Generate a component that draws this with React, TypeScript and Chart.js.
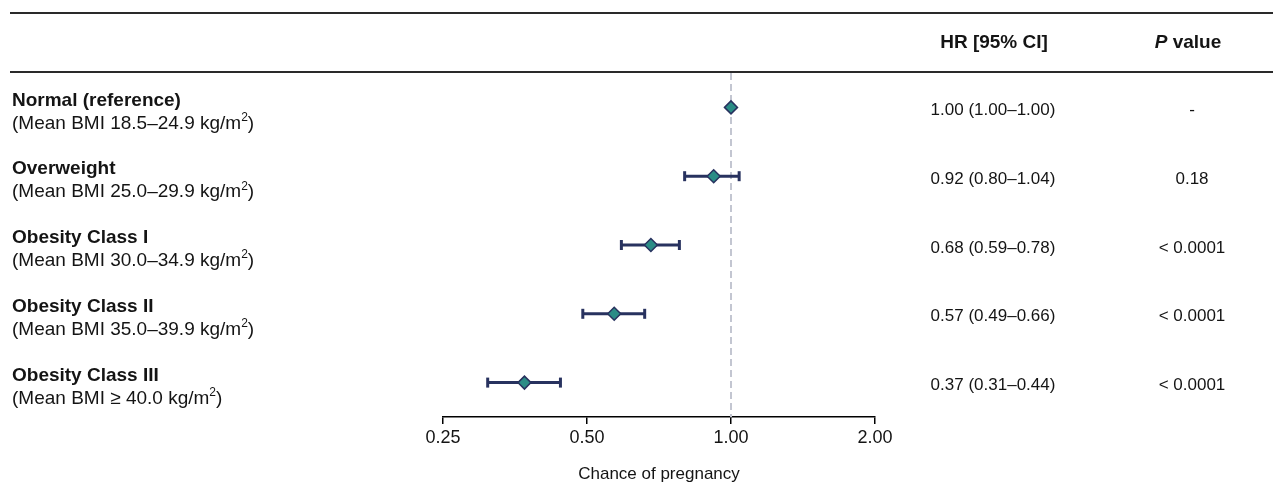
import React, { useEffect, useRef } from "react";
import { Chart, registerables } from "chart.js";

Chart.register(...registerables);

const groupNames = ["Normal (reference)", "Overweight", "Obesity Class I", "Obesity Class II", "Obesity Class III"];
const bmiRanges = [
  "(Mean BMI 18.5–24.9 kg/m²)",
  "(Mean BMI 25.0–29.9 kg/m²)",
  "(Mean BMI 30.0–34.9 kg/m²)",
  "(Mean BMI 35.0–39.9 kg/m²)",
  "(Mean BMI ≥ 40.0 kg/m²)",
];
const hr = [1.0, 0.92, 0.68, 0.57, 0.37];
const ciLow = [1.0, 0.8, 0.59, 0.49, 0.31];
const ciHigh = [1.0, 1.04, 0.78, 0.66, 0.44];
const pValues = ["-", "0.18", "< 0.0001", "< 0.0001", "< 0.0001"];
const xTicks = [0.25, 0.5, 1.0, 2.0];
const referenceValue = 1.0;
const axisTitle = "Chance of pregnancy";
const hrHeader = "HR [95% CI]";

const FONT = '"Liberation Sans", Arial, Helvetica, sans-serif';
const NAVY = "#28325f";
const TEAL = "#2b8c86";
const TEXT = "#141414";

const fmt = (v: number) => v.toFixed(2);

const tablePlugin = {
  id: "forestTable",
  afterDraw(chart: any) {
    const ctx = chart.ctx as CanvasRenderingContext2D;
    const yScale = chart.scales.y;
    const W = chart.width;
    ctx.save();
    // rules
    ctx.strokeStyle = "#2a2a2a";
    ctx.lineWidth = 2;
    ctx.beginPath();
    ctx.moveTo(10, 13);
    ctx.lineTo(W, 13);
    ctx.moveTo(10, 72);
    ctx.lineTo(W, 72);
    ctx.stroke();

    ctx.fillStyle = TEXT;
    ctx.textBaseline = "middle";

    // headers
    ctx.font = `bold 19px ${FONT}`;
    ctx.textAlign = "center";
    ctx.fillText(hrHeader, 994, 43);
    const pw = (() => {
      ctx.font = `italic bold 19px ${FONT}`;
      const a = ctx.measureText("P").width;
      ctx.font = `bold 19px ${FONT}`;
      const b = ctx.measureText(" value").width;
      return [a, b];
    })();
    const pStart = 1188 - (pw[0] + pw[1]) / 2;
    ctx.textAlign = "left";
    ctx.font = `italic bold 19px ${FONT}`;
    ctx.fillText("P", pStart, 43);
    ctx.font = `bold 19px ${FONT}`;
    ctx.fillText(" value", pStart + pw[0], 43);

    groupNames.forEach((name, i) => {
      const yc = yScale.getPixelForValue(i);
      // left labels
      ctx.textAlign = "left";
      ctx.font = `bold 19px ${FONT}`;
      ctx.fillText(name, 12, yc - 7);
      ctx.font = `19px ${FONT}`;
      const parts = bmiRanges[i].split("²");
      let x = 12;
      ctx.fillText(parts[0], x, yc + 16);
      x += ctx.measureText(parts[0]).width;
      if (parts.length > 1) {
        ctx.font = `12px ${FONT}`;
        ctx.fillText("2", x, yc + 10);
        x += ctx.measureText("2").width;
        ctx.font = `19px ${FONT}`;
        ctx.fillText(parts[1], x, yc + 16);
      }
      // right columns
      ctx.textAlign = "center";
      ctx.font = `17px ${FONT}`;
      ctx.fillText(`${fmt(hr[i])} (${fmt(ciLow[i])}–${fmt(ciHigh[i])})`, 993, yc + 3);
      ctx.fillText(pValues[i], 1192, yc + 3);
    });
    ctx.restore();
  },
};

export default function App() {
  const ref = useRef<HTMLCanvasElement | null>(null);
  useEffect(() => {
    document.body.style.margin = "0";
    const canvas = ref.current;
    if (!canvas) return;
    const rows = groupNames.map((_, i) => i);
    const barSets = rows.map((i) => ({
      type: "line" as const,
      data: [
        { x: ciLow[i], y: i },
        { x: ciHigh[i], y: i },
      ],
      borderColor: NAVY,
      borderWidth: 3,
      pointRadius: 0,
      order: 2,
    }));
    const chart = new Chart(canvas, {
      type: "scatter",
      data: {
        datasets: [
          {
            label: "HR",
            data: rows.map((i) => ({ x: hr[i], y: i })),
            pointStyle: "rectRot",
            pointRadius: 6.5,
            backgroundColor: TEAL,
            borderColor: NAVY,
            borderWidth: 1.5,
            order: 0,
          },
          {
            label: "caps",
            data: rows.flatMap((i) => (ciLow[i] === ciHigh[i] ? [] : [{ x: ciLow[i], y: i }, { x: ciHigh[i], y: i }])),
            pointStyle: "line",
            rotation: 90,
            pointRadius: 5,
            borderColor: NAVY,
            borderWidth: 3,
            order: 1,
          },
          ...barSets,
          {
            type: "line" as const,
            label: "ref",
            data: [
              { x: referenceValue, y: -0.5 },
              { x: referenceValue, y: 4.5 },
            ],
            borderColor: "#c3c6d1",
            borderDash: [7, 4],
            borderWidth: 2,
            pointRadius: 0,
            order: 3,
          },
        ] as any,
      },
      options: {
        responsive: false,
        animation: false,
        events: [],
        layout: { padding: { left: 443, right: 398, top: 73, bottom: 0 } },
        plugins: { legend: { display: false }, tooltip: { enabled: false } },
        scales: {
          x: {
            type: "logarithmic",
            min: 0.25,
            max: 2,
            afterBuildTicks: (scale: any) => {
              scale.ticks = xTicks.map((v) => ({ value: v }));
            },
            afterFit: (scale: any) => {
              scale.height = 81;
            },
            ticks: {
              callback: (v: any) => fmt(Number(v)),
              font: { family: FONT, size: 18 },
              color: TEXT,
              padding: 3,
              maxRotation: 0,
              autoSkip: false,
            },
            grid: { drawOnChartArea: false, drawTicks: true, tickLength: 7, color: "#000", lineWidth: 1.5 },
            border: { display: true, color: "#000", width: 1.5 },
            title: {
              display: true,
              text: axisTitle,
              font: { family: FONT, size: 17 },
              color: TEXT,
              padding: { top: 4, bottom: 13 },
            },
          },
          y: {
            type: "linear",
            min: -0.5,
            max: 4.5,
            reverse: true,
            display: false,
          },
        },
      },
      plugins: [tablePlugin],
    } as any);
    return () => chart.destroy();
  }, []);
  return <canvas ref={ref} width={1273} height={498} style={{ display: "block" }} />;
}
